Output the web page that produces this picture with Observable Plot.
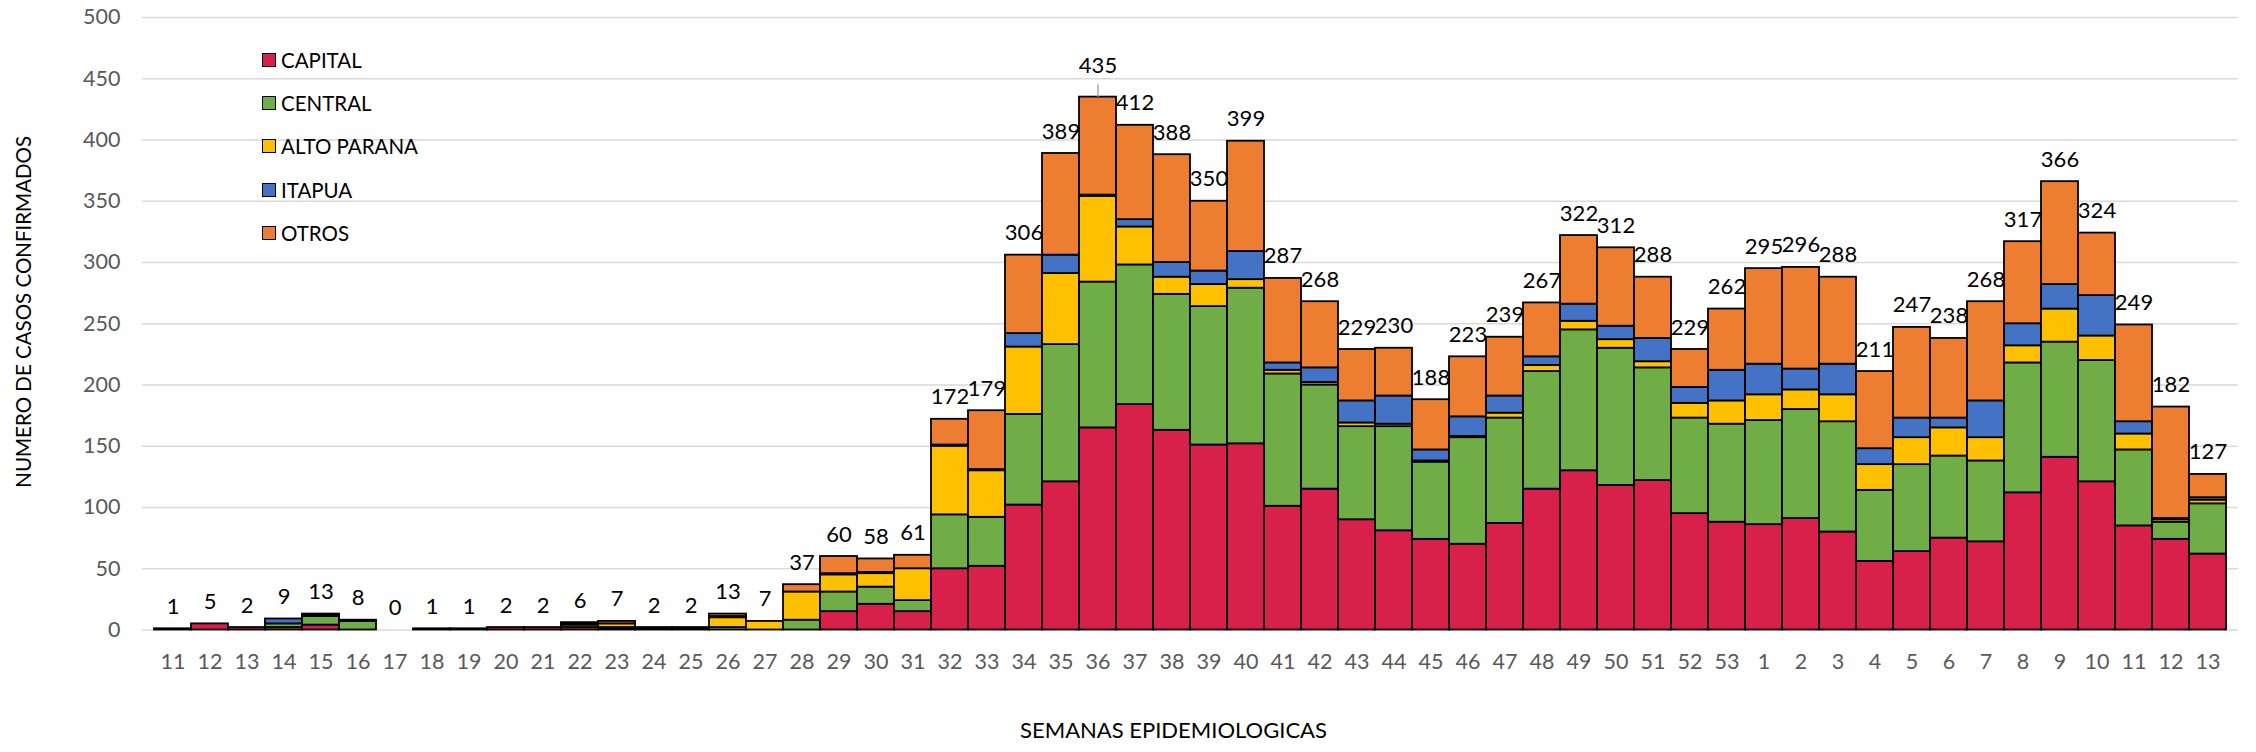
<!DOCTYPE html>
<html>
<head>
<meta charset="utf-8">
<script src="https://cdn.jsdelivr.net/npm/d3@7"></script>
<script src="https://cdn.jsdelivr.net/npm/@observablehq/plot@0.6"></script>
<style>
  html, body { margin: 0; padding: 0; background: #fff; }
  #wrap { position: relative; width: 2256px; height: 752px; font-family: Lato, "Open Sans", sans-serif; }
  #legend { position: absolute; left: 262px; top: 49px; }
  .row { display: flex; align-items: center; height: 21px; margin-bottom: 22.4px; font-size: 20.5px; color: #000; }
  .sw { width: 14px; height: 14px; box-sizing: border-box; border: 1.8px solid #000; margin-right: 5px; }
</style>
</head>
<body>
<div id="wrap"><div id="chart"></div><div id="legend"></div></div>
<script>
const weeks = [11,12,13,14,15,16,17,18,19,20,21,22,23,24,25,26,27,28,29,30,31,32,33,34,35,36,37,38,39,40,41,42,43,44,45,46,47,48,49,50,51,52,53,1,2,3,4,5,6,7,8,9,10,11,12,13];
const seriesNames = ["CAPITAL", "CENTRAL", "ALTO PARANA", "ITAPUA", "OTROS"];
const seriesColors = ["#D7214B", "#70AD47", "#FFC000", "#4472C4", "#ED7D31"];
const capital = [1,5,2,2,4,0,0,1,1,2, 2,2,1,1,1,0,0,0,15,21, 15,50,52,102,121,165,184,163,151,152, 101,115,90,81,74,70,87,115,130,118, 122,95,88, 86,91,80,56,64,75,72,112,141,121,85,74,62];
const central = [0,0,0,3,7,7,0,0,0,0, 0,2,1,0,1,2,0,8,16,14, 9,44,40,74,112,119,114,111,113,127, 108,85,76,85,63,87,86,96,115,112, 92,78,80, 85,89,90,58,71,67,66,106,94,99,62,14,41];
const altoParana = [0,0,0,0,0,0,0,0,0,0, 0,1,3,0,0,8,7,23,14,11, 26,56,38,55,58,70,31,14,18,7, 3,2,3,2,1,1,4,5,7,7, 5,12,19, 21,16,22,21,22,23,19,14,27,20,13,2,3];
const itapua = [0,0,0,4,1,0,0,0,0,0, 0,0,0,0,0,1,0,0,1,1, 0,1,1,11,15,1,6,12,11,23, 6,12,18,23,9,16,14,7,14,11, 19,13,25, 25,17,25,13,16,8,30,18,20,33,10,1,2];
const otros = [0,0,0,0,1,1,0,0,0,0, 0,1,2,1,0,2,0,6,14,11, 11,21,48,64,83,80,77,88,57,90, 69,54,42,39,41,49,48,44,56,64, 50,31,50, 78,83,71,63,74,65,81,67,84,51,79,91,19];
const yTicks = [0,50,100,150,200,250,300,350,400,450,500];

const seriesValues = [capital, central, altoParana, itapua, otros];
const rows = [];
weeks.forEach((w, i) => seriesNames.forEach((s, k) => rows.push({i, region: s, value: seriesValues[k][i]})));
const totals = weeks.map((w, i) => ({i, total: d3.sum(seriesValues, a => a[i])}));
const maxTotal = d3.max(totals, d => d.total);
const normal = totals.filter(d => d.total !== maxTotal);
const peak = totals.filter(d => d.total === maxTotal);

const chart = Plot.plot({
  width: 2256,
  height: 752,
  marginLeft: 142,
  marginRight: 18,
  marginTop: 17,
  marginBottom: 122.5,
  style: {fontFamily: "Lato, 'Open Sans', sans-serif", fontSize: "20px", background: "#fff"},
  x: {type: "band", domain: d3.range(weeks.length), padding: 0},
  y: {domain: [0, 500]},
  color: {domain: seriesNames, range: seriesColors},
  marks: [
    Plot.gridY(yTicks, {stroke: "#d9d9d9", strokeOpacity: 1, strokeWidth: 1.6}),
    Plot.barY(rows, {x: "i", y: "value", fill: "region", order: seriesNames, stroke: "#000", strokeWidth: 1.8}),
    Plot.text(normal, {x: "i", y: "total", text: d => String(d.total), dy: -22, fill: "#000", fontSize: 22}),
    Plot.ruleX(peak, {x: "i", y1: "total", y2: d => d.total + 10, stroke: "#a6a6a6", strokeWidth: 1.5}),
    Plot.text(peak, {x: "i", y: "total", text: d => String(d.total), dy: -31, fill: "#000", fontSize: 22}),
    Plot.axisX({tickSize: 0, tickPadding: 24, tickFormat: i => String(weeks[i]), color: "#595959", fontSize: 21.5, label: null}),
    Plot.axisY(yTicks, {tickSize: 0, tickPadding: 22, color: "#595959", fontSize: 21.5, label: null}),
    Plot.text(["NUMERO DE CASOS CONFIRMADOS"], {frameAnchor: "left", textAnchor: "middle", rotate: -90, dx: -118, dy: -12, fill: "#000", fontSize: 20.5}),
    Plot.text(["SEMANAS EPIDEMIOLOGICAS"], {frameAnchor: "bottom", textAnchor: "middle", dx: -17, dy: 108, fill: "#000", fontSize: 22})
  ]
});
document.getElementById("chart").appendChild(chart);

const legend = document.getElementById("legend");
seriesNames.forEach((s, k) => {
  const row = document.createElement("div");
  row.className = "row";
  const sw = document.createElement("span");
  sw.className = "sw";
  sw.style.background = seriesColors[k];
  const t = document.createElement("span");
  t.textContent = s;
  row.appendChild(sw);
  row.appendChild(t);
  legend.appendChild(row);
});
</script>
</body>
</html>
